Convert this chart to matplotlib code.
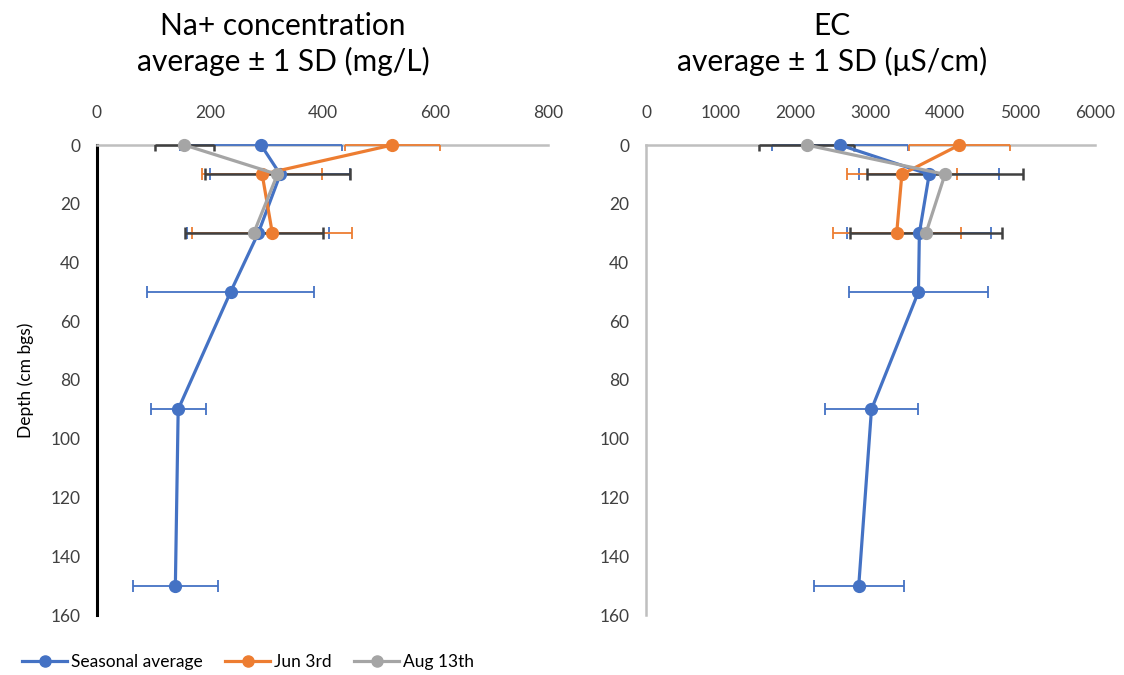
import matplotlib
matplotlib.use('Agg')
import matplotlib.pyplot as plt
from matplotlib.lines import Line2D

plt.rcParams['font.family'] = ['Lato', 'DejaVu Sans']

# depths (cm below ground surface)
depth_avg = [0, 10, 30, 50, 90, 150]
depth_samp = [0, 10, 30]

# Na+ (mg/L)
na_avg = [291, 325, 286, 237, 144, 139]
na_avg_sd = [144, 124, 126, 148, 49, 76]
na_jun = [524, 293, 311]
na_jun_sd = [84, 106, 142]
na_aug = [155, 320, 278]
na_aug_sd = [52, 128, 122]

# EC (uS/cm)
ec_avg = [2593, 3784, 3653, 3641, 3013, 2843]
ec_avg_sd = [905, 938, 961, 925, 617, 601]
ec_jun = [4187, 3419, 3350]
ec_jun_sd = [677, 737, 855]
ec_aug = [2147, 3995, 3741]
ec_aug_sd = [633, 1046, 1015]

depth_ticks = [0, 20, 40, 60, 80, 100, 120, 140, 160]
series_names = ['Seasonal average', 'Jun 3rd', 'Aug 13th']

blue = '#4472C4'
orange = '#ED7D31'
grey = '#A5A5A5'
dark = '#404040'
axis_grey = '#BFBFBF'

fig = plt.figure(figsize=(11.24, 6.75), dpi=100)
ax1 = fig.add_axes([97 / 1124, 60 / 675, 451 / 1124, 470 / 675])
ax2 = fig.add_axes([646 / 1124, 60 / 675, 449 / 1124, 470 / 675])


def sd_bars(ax, x, y, sd, color, lw, z):
    eb = ax.errorbar(x, y, xerr=sd, fmt='none', ecolor=color,
                     elinewidth=lw, capsize=4, capthick=lw, zorder=z)
    # bar lines stay whole at the surface, caps get cut by the axis
    for col in eb[2]:
        col.set_clip_on(False)


def draw_profile(ax, avg, avg_sd, jun, jun_sd, aug, aug_sd, xmax, xstep):
    sd_bars(ax, avg, depth_avg, avg_sd, blue, 1.3, 3)
    sd_bars(ax, jun, depth_samp, jun_sd, orange, 1.3, 3.1)
    sd_bars(ax, aug, depth_samp, aug_sd, dark, 1.8, 3.2)

    for i, (x, y, c) in enumerate([(avg, depth_avg, blue),
                                   (jun, depth_samp, orange),
                                   (aug, depth_samp, grey)]):
        ax.plot(x, y, color=c, lw=2.3, marker='o', ms=8.5,
                clip_on=False, zorder=4 + i * 0.1)

    ax.set_xlim(0, xmax)
    ax.set_ylim(160, 0)
    ax.set_xticks(range(0, xmax + 1, xstep))
    ax.set_yticks(depth_ticks)
    ax.xaxis.tick_top()
    ax.tick_params(axis='x', length=0, pad=17, labelsize=12.5, colors='#404040')
    ax.tick_params(axis='y', length=0, pad=12, labelsize=12.5, colors='#404040')
    for s in ['right', 'bottom']:
        ax.spines[s].set_visible(False)
    ax.spines['top'].set_color(axis_grey)
    ax.spines['top'].set_linewidth(1.8)


draw_profile(ax1, na_avg, na_avg_sd, na_jun, na_jun_sd, na_aug, na_aug_sd,
             800, 200)
draw_profile(ax2, ec_avg, ec_avg_sd, ec_jun, ec_jun_sd, ec_aug, ec_aug_sd,
             6000, 1000)

ax1.spines['left'].set_color('black')
ax1.spines['left'].set_linewidth(2.2)
ax2.spines['left'].set_color(axis_grey)
ax2.spines['left'].set_linewidth(1.8)

ax1.set_ylabel('Depth (cm bgs)', fontsize=12.5, color='black', labelpad=12)

fig.text(283 / 1124, 1 - 44 / 675, 'Na+ concentration\naverage \u00b1 1 SD (mg/L)',
         ha='center', va='center', fontsize=21.5, linespacing=1.3)
fig.text(832 / 1124, 1 - 44 / 675, 'EC\naverage \u00b1 1 SD (\u03bcS/cm)',
         ha='center', va='center', fontsize=21.5, linespacing=1.3)

handles = [Line2D([], [], color=c, lw=2.3, marker='o', ms=8)
           for c in (blue, orange, grey)]
fig.legend(handles, series_names, loc='center', ncol=3,
           bbox_to_anchor=(248 / 1124, 1 - 662 / 675), frameon=False,
           fontsize=12.5, handlelength=2.6, columnspacing=1.3,
           handletextpad=0.2)

fig.savefig('out.png', dpi=100)
